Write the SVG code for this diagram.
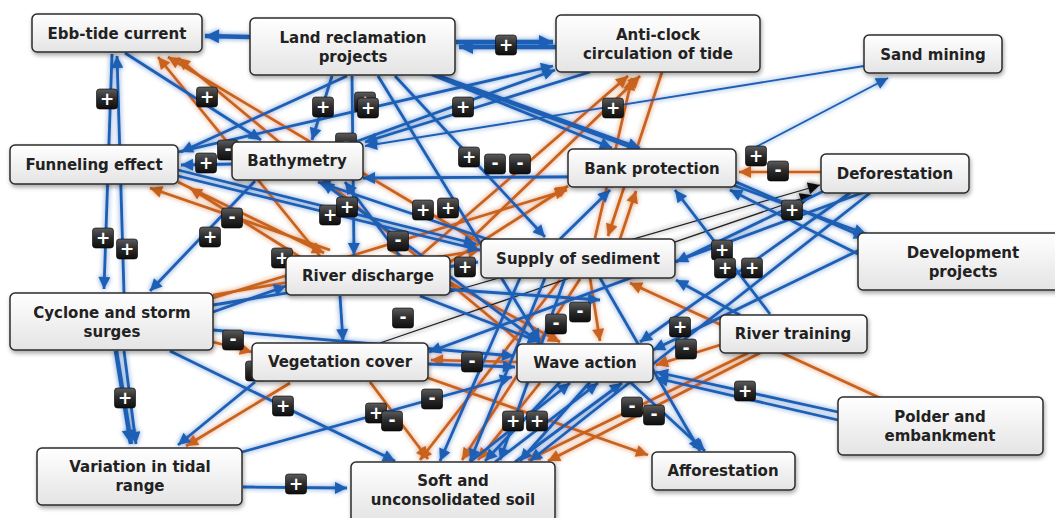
<svg xmlns="http://www.w3.org/2000/svg" xmlns:xlink="http://www.w3.org/1999/xlink" width="1055" height="518" viewBox="0 0 1055 518">
<style>
.b{stroke:#1b5fb5;stroke-width:2.8;fill:none;marker-end:url(#ab)}
.bt{stroke:#1b5fb5;stroke-width:4.5;fill:none;marker-end:url(#abt)}
.bs{stroke:#1b5fb5;stroke-width:1.8;fill:none;marker-end:url(#ab)}
.o{stroke:#c8621f;stroke-width:2.7;fill:none;marker-end:url(#ao)}
.k{stroke:#222;stroke-width:1.3;fill:none;marker-end:url(#ak)}
.box{fill:url(#ng);stroke:#2b2b2b;stroke-width:1.5;filter:url(#sh)}
.lbl{font-family:"DejaVu Sans",Verdana,sans-serif;font-weight:bold;font-size:15px;fill:#222;text-anchor:middle}
.bg{fill:url(#bgr);stroke:#000;stroke-width:0.6}
.bx{font-family:"DejaVu Sans",Verdana,sans-serif;font-weight:bold;font-size:17px;fill:#fff;text-anchor:middle}
</style>
<defs>
<linearGradient id="ng" x1="0" y1="0" x2="0" y2="1"><stop offset="0" stop-color="#ffffff"/><stop offset="1" stop-color="#e4e4e4"/></linearGradient>
<linearGradient id="bgr" x1="0" y1="0" x2="0" y2="1"><stop offset="0" stop-color="#5c5c5c"/><stop offset="0.5" stop-color="#2a2a2a"/><stop offset="1" stop-color="#0e0e0e"/></linearGradient>
<filter id="sh" x="-10%" y="-20%" width="125%" height="150%"><feDropShadow dx="1" dy="2.5" stdDeviation="2" flood-color="#000" flood-opacity="0.35"/></filter>
<filter id="glow" x="-5%" y="-5%" width="110%" height="110%"><feGaussianBlur in="SourceGraphic" stdDeviation="2.6" result="bl"/><feComponentTransfer in="bl" result="b2"><feFuncA type="linear" slope="0.7"/></feComponentTransfer><feMerge><feMergeNode in="b2"/><feMergeNode in="SourceGraphic"/></feMerge></filter>
<marker id="ab" viewBox="0 0 10 10" refX="10" refY="5" markerWidth="14" markerHeight="12" markerUnits="userSpaceOnUse" orient="auto"><path d="M0,0 L10,5 L0,10 z" fill="#1b5fb5"/></marker>
<marker id="abt" viewBox="0 0 10 10" refX="10" refY="5" markerWidth="16" markerHeight="14" markerUnits="userSpaceOnUse" orient="auto"><path d="M0,0 L10,5 L0,10 z" fill="#1b5fb5"/></marker>
<marker id="ao" viewBox="0 0 10 10" refX="10" refY="5" markerWidth="14" markerHeight="12" markerUnits="userSpaceOnUse" orient="auto"><path d="M0,0 L10,5 L0,10 z" fill="#c8621f"/></marker>
<marker id="ak" viewBox="0 0 10 10" refX="10" refY="5" markerWidth="14" markerHeight="12" markerUnits="userSpaceOnUse" orient="auto"><path d="M0,0 L10,5 L0,10 z" fill="#111"/></marker>
<g id="pl"><rect class="bg" x="-10.5" y="-10" width="21" height="20" rx="3"/><text class="bx" x="0" y="6">+</text></g>
<g id="mi"><rect class="bg" x="-10.5" y="-10" width="21" height="20" rx="3"/><text class="bx" x="0" y="5">-</text></g>
</defs>
<rect width="1055" height="518" fill="#fff"/>
<g id="connectors" filter="url(#glow)">
<!-- orange -->
<line class="o" x1="320" y1="256" x2="158" y2="57"/>
<line class="o" x1="480" y1="243" x2="168" y2="57"/>
<line class="o" x1="520" y1="342" x2="178" y2="58"/>
<line class="o" x1="330" y1="250" x2="150" y2="188"/>
<line class="o" x1="300" y1="257" x2="190" y2="188"/>
<line class="o" x1="178" y1="182" x2="324" y2="253"/>
<line class="o" x1="420" y1="256" x2="628" y2="76"/>
<line class="o" x1="470" y1="240" x2="640" y2="76"/>
<line class="o" x1="595" y1="238" x2="632" y2="78"/>
<line class="o" x1="662" y1="72" x2="608" y2="236"/>
<line class="o" x1="821" y1="172" x2="739" y2="172"/>
<line class="o" x1="213" y1="298" x2="567" y2="190"/>
<line class="o" x1="450" y1="262" x2="568" y2="186"/>
<line class="o" x1="620" y1="239" x2="636" y2="191"/>
<line class="o" x1="880" y1="398" x2="630" y2="283"/>
<line class="o" x1="720" y1="345" x2="656" y2="365"/>
<line class="o" x1="748" y1="353" x2="528" y2="460"/>
<line class="o" x1="760" y1="353" x2="548" y2="461"/>
<line class="o" x1="428" y1="378" x2="648" y2="455"/>
<line class="o" x1="517" y1="362" x2="431" y2="360"/>
<line class="o" x1="370" y1="382" x2="428" y2="459"/>
<line class="o" x1="290" y1="383" x2="186" y2="446"/>
<line class="o" x1="590" y1="278" x2="600" y2="341"/>
<line class="o" x1="540" y1="383" x2="478" y2="460"/>
<line class="o" x1="580" y1="279" x2="462" y2="460"/>
<line class="o" x1="213" y1="342" x2="252" y2="352"/>
<line class="o" x1="560" y1="280" x2="420" y2="460"/>
<line class="o" x1="390" y1="250" x2="560" y2="342"/>
<line class="o" x1="213" y1="295" x2="480" y2="250"/>
<!-- black -->
<line class="k" x1="380" y1="343" x2="812" y2="195"/>
<line class="k" x1="440" y1="295" x2="820" y2="185"/>
<!-- blue -->
<line class="bt" x1="250" y1="37" x2="205" y2="36"/>
<line class="bt" x1="456" y1="42" x2="553" y2="42"/>
<line class="bt" x1="556" y1="47" x2="459" y2="47"/>
<line class="b" x1="112" y1="54" x2="104" y2="289"/>
<line class="b" x1="124" y1="293" x2="117" y2="56"/>
<line class="bt" x1="116" y1="351" x2="131" y2="444"/>
<line class="b" x1="124" y1="351" x2="136" y2="444"/>
<line class="b" x1="243" y1="487" x2="347" y2="488"/>
<line class="b" x1="125" y1="53" x2="261" y2="140"/>
<line class="b" x1="332" y1="76" x2="312" y2="140"/>
<line class="b" x1="347" y1="76" x2="181" y2="152"/>
<line class="b" x1="233" y1="164" x2="181" y2="165"/>
<line class="b" x1="178" y1="152" x2="553" y2="66"/>
<line class="b" x1="355" y1="142" x2="555" y2="70"/>
<line class="bs" x1="864" y1="66" x2="365" y2="146"/>
<line class="b" x1="378" y1="76" x2="540" y2="341"/>
<line class="b" x1="395" y1="76" x2="545" y2="237"/>
<line class="b" x1="437" y1="76" x2="866" y2="234"/>
<line class="b" x1="420" y1="70" x2="612" y2="148"/>
<line class="bs" x1="750" y1="150" x2="888" y2="78"/>
<line class="b" x1="255" y1="181" x2="150" y2="291"/>
<line class="b" x1="178" y1="176" x2="480" y2="250"/>
<line class="b" x1="178" y1="170" x2="476" y2="244"/>
<line class="b" x1="213" y1="305" x2="478" y2="262"/>
<line class="b" x1="213" y1="330" x2="514" y2="356"/>
<line class="b" x1="170" y1="351" x2="395" y2="461"/>
<line class="b" x1="255" y1="382" x2="178" y2="445"/>
<line class="b" x1="242" y1="452" x2="512" y2="377"/>
<line class="b" x1="340" y1="296" x2="343" y2="341"/>
<line class="b" x1="520" y1="278" x2="440" y2="461"/>
<line class="b" x1="545" y1="278" x2="470" y2="461"/>
<line class="b" x1="565" y1="278" x2="500" y2="460"/>
<line class="b" x1="560" y1="382" x2="485" y2="461"/>
<line class="b" x1="590" y1="382" x2="520" y2="461"/>
<line class="b" x1="838" y1="412" x2="656" y2="372"/>
<line class="b" x1="838" y1="420" x2="656" y2="378"/>
<line class="b" x1="736" y1="182" x2="866" y2="238"/>
<line class="b" x1="630" y1="382" x2="705" y2="451"/>
<line class="b" x1="600" y1="278" x2="700" y2="451"/>
<line class="b" x1="850" y1="193" x2="640" y2="342"/>
<line class="b" x1="830" y1="188" x2="676" y2="262"/>
<line class="b" x1="870" y1="193" x2="530" y2="461"/>
<line class="b" x1="740" y1="315" x2="676" y2="280"/>
<line class="b" x1="770" y1="314" x2="675" y2="190"/>
<line class="b" x1="870" y1="260" x2="730" y2="190"/>
<line class="b" x1="560" y1="239" x2="610" y2="190"/>
<line class="b" x1="490" y1="240" x2="318" y2="182"/>
<line class="b" x1="540" y1="343" x2="322" y2="182"/>
<line class="b" x1="400" y1="256" x2="345" y2="182"/>
<line class="b" x1="420" y1="296" x2="540" y2="342"/>
<line class="b" x1="428" y1="364" x2="515" y2="367"/>
<line class="b" x1="470" y1="462" x2="570" y2="383"/>
<line class="b" x1="495" y1="462" x2="598" y2="383"/>
<line class="b" x1="515" y1="462" x2="622" y2="383"/>
<line class="b" x1="213" y1="312" x2="286" y2="286"/>
<line class="b" x1="352" y1="76" x2="354" y2="255"/>
<line class="b" x1="870" y1="190" x2="429" y2="352"/>
<line class="b" x1="880" y1="240" x2="653" y2="350"/>
<line class="b" x1="590" y1="72" x2="365" y2="142"/>
<line class="b" x1="735" y1="176" x2="363" y2="178"/>
<line class="b" x1="285" y1="278" x2="600" y2="300"/>
<line class="b" x1="440" y1="76" x2="640" y2="148"/>
</g>
<g id="badges">
<use href="#pl" x="506" y="45"/>
<use href="#pl" x="107" y="99"/>
<use href="#pl" x="207" y="97"/>
<use href="#pl" x="323" y="107"/>
<use href="#pl" x="365" y="102"/>
<use href="#pl" x="368" y="108"/>
<use href="#pl" x="463" y="107"/>
<use href="#pl" x="613" y="108"/>
<use href="#mi" x="346" y="143"/>
<use href="#pl" x="469" y="157"/>
<use href="#mi" x="495" y="164"/>
<use href="#mi" x="520" y="164"/>
<use href="#mi" x="228" y="150"/>
<use href="#pl" x="206" y="163"/>
<use href="#pl" x="756" y="156"/>
<use href="#mi" x="778" y="171"/>
<use href="#pl" x="792" y="210"/>
<use href="#pl" x="103" y="238"/>
<use href="#pl" x="127" y="249"/>
<use href="#mi" x="232" y="218"/>
<use href="#pl" x="210" y="237"/>
<use href="#pl" x="330" y="215"/>
<use href="#pl" x="347" y="207"/>
<use href="#pl" x="423" y="210"/>
<use href="#pl" x="448" y="208"/>
<use href="#mi" x="398" y="241"/>
<use href="#pl" x="282" y="258"/>
<use href="#pl" x="465" y="267"/>
<use href="#pl" x="722" y="250"/>
<use href="#pl" x="725" y="268"/>
<use href="#pl" x="752" y="268"/>
<use href="#mi" x="403" y="318"/>
<use href="#mi" x="580" y="312"/>
<use href="#mi" x="556" y="324"/>
<use href="#pl" x="680" y="327"/>
<use href="#mi" x="686" y="349"/>
<use href="#mi" x="233" y="340"/>
<use href="#mi" x="256" y="371"/>
<use href="#mi" x="472" y="362"/>
<use href="#pl" x="125" y="398"/>
<use href="#pl" x="283" y="406"/>
<use href="#pl" x="376" y="413"/>
<use href="#mi" x="392" y="421"/>
<use href="#mi" x="432" y="399"/>
<use href="#pl" x="513" y="421"/>
<use href="#pl" x="537" y="421"/>
<use href="#mi" x="632" y="407"/>
<use href="#mi" x="654" y="415"/>
<use href="#pl" x="745" y="391"/>
<use href="#pl" x="296" y="484"/>
</g>
<g id="n-ebb"><rect class="box" x="32" y="14" width="170" height="38" rx="5"/><text class="lbl" x="117" y="39">Ebb-tide current</text></g>
<g id="n-land"><rect class="box" x="250" y="18" width="205" height="57" rx="5"/><text class="lbl" x="353" y="43">Land reclamation</text><text class="lbl" x="353" y="62">projects</text></g>
<g id="n-anti"><rect class="box" x="556" y="15" width="204" height="57" rx="5"/><text class="lbl" x="658" y="40">Anti-clock</text><text class="lbl" x="658" y="59">circulation of tide</text></g>
<g id="n-sand"><rect class="box" x="864" y="35" width="138" height="38" rx="5"/><text class="lbl" x="933" y="60">Sand mining</text></g>
<g id="n-funnel"><rect class="box" x="10" y="145" width="168" height="39" rx="5"/><text class="lbl" x="94" y="170">Funneling effect</text></g>
<g id="n-bathy"><rect class="box" x="232" y="142" width="131" height="38" rx="5"/><text class="lbl" x="297" y="166">Bathymetry</text></g>
<g id="n-bank"><rect class="box" x="568" y="149" width="168" height="38" rx="5"/><text class="lbl" x="652" y="174">Bank protection</text></g>
<g id="n-defor"><rect class="box" x="821" y="154" width="148" height="39" rx="5"/><text class="lbl" x="895" y="179">Deforestation</text></g>
<g id="n-dev"><rect class="box" x="858" y="233" width="210" height="57" rx="5"/><text class="lbl" x="963" y="258">Development</text><text class="lbl" x="963" y="277">projects</text></g>
<g id="n-supply"><rect class="box" x="481" y="239" width="194" height="39" rx="5"/><text class="lbl" x="578" y="264">Supply of sediment</text></g>
<g id="n-river"><rect class="box" x="286" y="256" width="164" height="39" rx="5"/><text class="lbl" x="368" y="281">River discharge</text></g>
<g id="n-cyclone"><rect class="box" x="10" y="293" width="203" height="57" rx="5"/><text class="lbl" x="112" y="318">Cyclone and storm</text><text class="lbl" x="112" y="337">surges</text></g>
<g id="n-veg"><rect class="box" x="252" y="343" width="176" height="38" rx="5"/><text class="lbl" x="340" y="367">Vegetation cover</text></g>
<g id="n-wave"><rect class="box" x="517" y="344" width="136" height="38" rx="5"/><text class="lbl" x="585" y="368">Wave action</text></g>
<g id="n-training"><rect class="box" x="720" y="315" width="147" height="38" rx="5"/><text class="lbl" x="793" y="339">River training</text></g>
<g id="n-polder"><rect class="box" x="838" y="397" width="205" height="58" rx="5"/><text class="lbl" x="940" y="422">Polder and</text><text class="lbl" x="940" y="441">embankment</text></g>
<g id="n-variation"><rect class="box" x="37" y="448" width="205" height="57" rx="5"/><text class="lbl" x="140" y="472">Variation in tidal</text><text class="lbl" x="140" y="491">range</text></g>
<g id="n-soft"><rect class="box" x="351" y="462" width="204" height="60" rx="5"/><text class="lbl" x="453" y="486">Soft and</text><text class="lbl" x="453" y="505">unconsolidated soil</text></g>
<g id="n-affor"><rect class="box" x="652" y="452" width="143" height="38" rx="5"/><text class="lbl" x="723" y="476">Afforestation</text></g>
</svg>
